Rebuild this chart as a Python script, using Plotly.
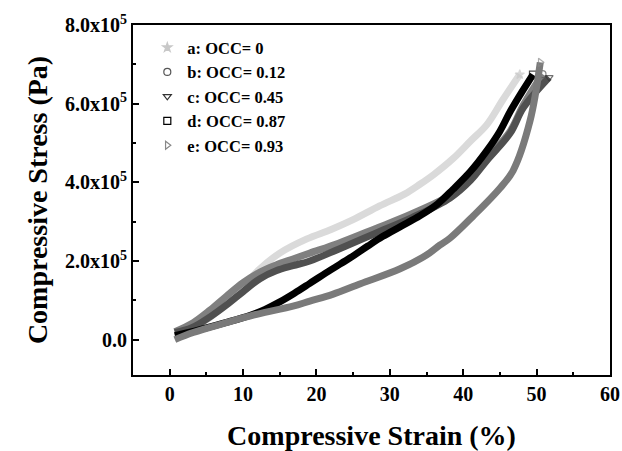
import plotly.graph_objects as go

# compressive strain (%) / stress (Pa)
labels = ['a: OCC= 0', 'b: OCC= 0.12', 'c: OCC= 0.45', 'd: OCC= 0.87', 'e: OCC= 0.93']

xa = [0.7, 3, 5, 7, 9, 11, 12.3, 15, 18.7, 22, 25, 28.6, 32, 34.1, 36, 38.6, 41, 43.2, 45.4, 47.7]
ya = [0.2e5, 0.3e5, 0.5e5, 0.8e5, 1.15e5, 1.55e5, 1.8e5, 2.2e5, 2.56e5, 2.8e5, 3.05e5, 3.4e5,
      3.7e5, 3.95e5, 4.2e5, 4.6e5, 5.05e5, 5.46e5, 6.1e5, 6.74e5]

xb = [0.7, 3.2, 5.5, 7.7, 10, 12.3, 14.5, 16.8, 19.1, 23, 28, 33, 38.2, 41, 43.2, 46.4, 48.2, 50.8]
yb = [0.2e5, 0.43e5, 0.75e5, 1.1e5, 1.45e5, 1.72e5, 1.9e5, 2.05e5, 2.2e5, 2.45e5, 2.82e5,
      3.2e5, 3.67e5, 4.1e5, 4.6e5, 5.3e5, 5.97e5, 6.75e5]

xc = [0.7, 3, 5.5, 8, 10, 12.3, 14.5, 16.8, 19.1, 23, 28, 33, 38.2, 41, 43.2, 46.4, 48.2, 51.7]
yc = [0.18e5, 0.3e5, 0.58e5, 0.92e5, 1.22e5, 1.55e5, 1.75e5, 1.88e5, 2.0e5, 2.3e5, 2.7e5,
      3.1e5, 3.6e5, 4.05e5, 4.55e5, 5.25e5, 5.9e5, 6.67e5]

xd = [0.7, 4, 8, 11, 13, 15, 17, 19.1, 22, 24.6, 27, 29, 31.5, 34.1, 36.5, 38.6, 41, 43.2,
      45, 46.4, 48, 49.5]
yd = [0.1e5, 0.25e5, 0.45e5, 0.62e5, 0.77e5, 0.96e5, 1.18e5, 1.43e5, 1.78e5, 2.08e5, 2.38e5,
      2.62e5, 2.88e5, 3.15e5, 3.45e5, 3.82e5, 4.28e5, 4.8e5, 5.3e5, 5.8e5, 6.3e5, 6.74e5]

xe = [0.7, 3.2, 7.7, 12, 16.8, 19.1, 22.2, 26, 31.4, 35, 36.8, 38.2, 41.4, 45, 46.8, 49.1, 50.5]
ye = [0.0, 0.18e5, 0.43e5, 0.65e5, 0.85e5, 0.98e5, 1.15e5, 1.42e5, 1.8e5, 2.15e5, 2.4e5,
      2.58e5, 3.15e5, 3.85e5, 4.3e5, 5.56e5, 7.05e5]

series = [
    (xa, ya, '#dadada', 'star', '#c8c8c8'),
    (xb, yb, '#808080', 'circle-open', '#555555'),
    (xc, yc, '#505050', 'triangle-down-open', '#333333'),
    (xd, yd, '#000000', 'square-open', '#000000'),
    (xe, ye, '#7a7a7a', 'triangle-right-open', '#888888'),
]

fig = go.Figure()
for (x, y, col, sym, mcol), name in zip(series, labels):
    sizes = [0] * (len(x) - 1) + [7]
    fig.add_trace(go.Scatter(x=x, y=y, mode='lines+markers', showlegend=False,
                             line=dict(color=col, width=7, shape='spline', smoothing=1),
                             marker=dict(symbol=sym, size=sizes, color=mcol,
                                         line=dict(color=mcol, width=1.2))))
# legend entries show only the symbol
for (x, y, col, sym, mcol), name in zip(series, labels):
    fig.add_trace(go.Scatter(x=[None], y=[None], mode='markers', name='<b>%s</b>' % name,
                             marker=dict(symbol=sym, size=7, color=mcol,
                                         line=dict(color=mcol, width=1.2))))

font = 'Liberation Serif'
yticks = [0, 2e5, 4e5, 6e5, 8e5]
ytext = ['<b>0.0</b>', '<b>2.0x10<sup>5</sup></b>', '<b>4.0x10<sup>5</sup></b>',
         '<b>6.0x10<sup>5</sup></b>', '<b>8.0x10<sup>5</sup></b>']
xticks = [0, 10, 20, 30, 40, 50, 60]

fig.update_layout(
    width=622, height=451,
    margin=dict(l=133, r=12, t=25, b=76),
    plot_bgcolor='white', paper_bgcolor='white',
    font=dict(family=font, color='black'),
    legend=dict(x=0.03, y=0.985, xanchor='left', yanchor='top',
                bgcolor='rgba(0,0,0,0)', font=dict(family=font, size=16.5),
                itemwidth=30, tracegroupgap=0),
    xaxis=dict(range=[-5, 60], tickvals=xticks, ticktext=['<b>%d</b>' % v for v in xticks],
               ticks='inside', ticklen=6, tickwidth=2, tickcolor='black',
               minor=dict(dtick=5, ticks='inside', ticklen=3, tickwidth=2, tickcolor='black'),
               showline=True, linewidth=2, linecolor='black', mirror=True,
               showgrid=False, zeroline=False, tickfont=dict(size=20), automargin=False,
               title=dict(text='<b>Compressive Strain (%)</b>', font=dict(size=28), standoff=26)),
    yaxis=dict(range=[-0.9e5, 8e5], tickvals=yticks, ticktext=ytext,
               ticks='inside', ticklen=6, tickwidth=2, tickcolor='black',
               minor=dict(dtick=1e5, ticks='inside', ticklen=3, tickwidth=2, tickcolor='black'),
               showline=True, linewidth=2, linecolor='black', mirror=True,
               showgrid=False, zeroline=False, tickfont=dict(size=20), automargin=False,
               title=dict(text='<b>Compressive Stress (Pa)</b>', font=dict(size=28), standoff=9)),
)

# drop the page's default body margin so the figure fills the window exactly
fig.write_html('out.html', config={'displayModeBar': False},
               post_script="document.body.style.margin='0';")
